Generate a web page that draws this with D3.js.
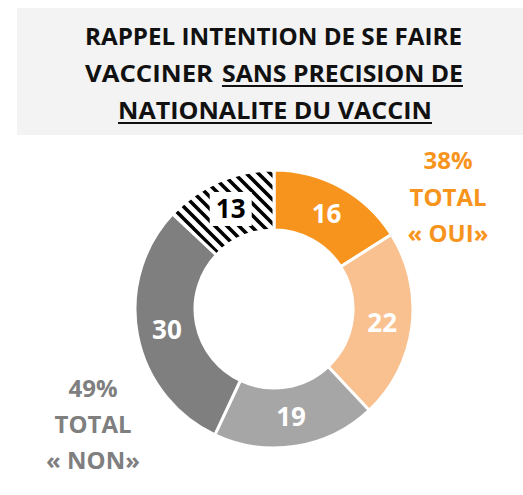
<!DOCTYPE html>
<html><head><meta charset="utf-8">
<script src="https://cdn.jsdelivr.net/npm/d3@7"></script>
<style>
html,body{margin:0;padding:0;background:#fff;}
svg{display:block;font-family:"Open Sans",sans-serif;font-weight:700;}
</style></head>
<body>
<svg id="chart" width="523" height="495"></svg>
<script>
// ---- data ----
const categories = ["Oui certainement", "Oui probablement", "Non probablement", "Non certainement", "Ne sait pas"];
const values = [16, 22, 19, 30, 13];
const sliceColors = ["#F7941D", "#F9C190", "#A6A6A6", "#7F7F7F", "hatch"];
const labelColors = ["#fff", "#fff", "#fff", "#fff", "#000"];
const titleLines = [
  [{t: "RAPPEL INTENTION DE SE FAIRE", u: false}],
  [{t: "VACCINER", u: false}, {t: "SANS PRECISION DE", u: true}],
  [{t: "NATIONALITE DU VACCIN", u: true}]
];
const ouiLines = ["38%", "TOTAL", "« OUI»"];
const nonLines = ["49%", "TOTAL", "« NON»"];

// ---- layout ----
const svg = d3.select("#chart");
const W = 523, H = 495;
const cx = 274, cy = 309, rOuter = 139, rInner = 79;

// hatch pattern
const defs = svg.append("defs");
const pat = defs.append("pattern").attr("id", "hatch")
  .attr("patternUnits", "userSpaceOnUse").attr("width", 12).attr("height", 12);
pat.append("rect").attr("width", 12).attr("height", 12).attr("fill", "#fff");
pat.append("path").attr("d", "M-3,9 L3,15 M0,0 L12,12 M9,-3 L15,3")
  .attr("stroke", "#000").attr("stroke-width", 3.6);

// title box
svg.append("rect").attr("x", 17).attr("y", 8).attr("width", W - 17).attr("height", 127)
  .attr("fill", "#F3F3F3");

// title text: segments with measured extents from reference
const titleSpecs = [
  [{x0: 85, x1: 462}],
  [{x0: 85, x1: 213}, {x0: 222, x1: 463}],
  [{x0: 118, x1: 432}]
];
const baselines = [45, 82, 119];
titleLines.forEach((line, i) => {
  line.forEach((seg, j) => {
    const s = titleSpecs[i][j];
    svg.append("text").attr("x", s.x0).attr("y", baselines[i])
      .attr("font-size", 24).attr("fill", "#111")
      .attr("textLength", s.x1 - s.x0).attr("lengthAdjust", "spacingAndGlyphs")
      .text(seg.t);
    if (seg.u) {
      svg.append("rect").attr("x", s.x0).attr("y", baselines[i] + 3)
        .attr("width", s.x1 - s.x0).attr("height", 2).attr("fill", "#111");
    }
  });
});

// donut
const pie = d3.pie().sort(null).value(d => d.v);
const data = values.map((v, i) => ({v, c: sliceColors[i], lc: labelColors[i], k: categories[i]}));
const arcs = pie(data);
const arc = d3.arc().innerRadius(rInner).outerRadius(rOuter);
const g = svg.append("g").attr("transform", `translate(${cx},${cy})`);
g.selectAll("path.slice").data(arcs).join("path").attr("class", "slice")
  .attr("d", arc)
  .attr("fill", d => d.data.c === "hatch" ? "url(#hatch)" : d.data.c)
  .attr("stroke", "#fff").attr("stroke-width", 3);

// labels
const lab = g.selectAll("g.lab").data(arcs).join("g").attr("class", "lab")
  .attr("transform", d => `translate(${arc.centroid(d)})`);
lab.filter(d => d.data.c === "hatch").append("rect")
  .attr("x", -21).attr("y", -17).attr("width", 42).attr("height", 34).attr("fill", "#fff");
lab.append("text").attr("text-anchor", "middle").attr("dy", "0.36em")
  .attr("font-size", 26).attr("fill", d => d.data.lc)
  .text(d => d.data.v);

// totals
const ouiBase = [169, 206, 242];
ouiLines.forEach((t, i) => {
  svg.append("text").attr("x", 448).attr("y", ouiBase[i]).attr("text-anchor", "middle")
    .attr("font-size", 24).attr("fill", "#F7941D").text(t);
});
const nonBase = [397, 433, 469];
nonLines.forEach((t, i) => {
  svg.append("text").attr("x", 93).attr("y", nonBase[i]).attr("text-anchor", "middle")
    .attr("font-size", 24).attr("fill", "#7F7F7F").text(t);
});
</script>
</body></html>
